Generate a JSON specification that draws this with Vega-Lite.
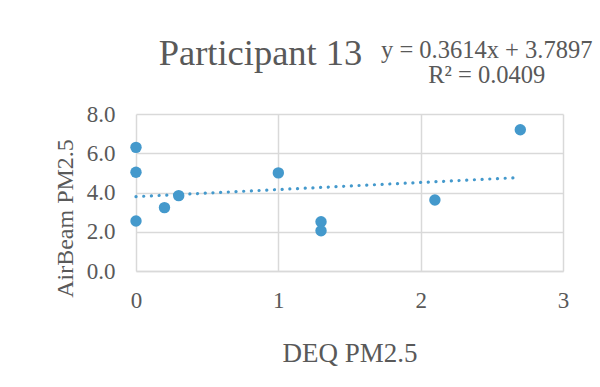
{
  "$schema": "https://vega.github.io/schema/vega-lite/v6.json",
  "width": 427,
  "height": 157,
  "autosize": {"type": "none"},
  "padding": {"left": 136, "top": 114, "right": 37, "bottom": 116},
  "background": "white",
  "datasets": {
    "points": [
      {"deq": 0, "airbeam": 6.3},
      {"deq": 0, "airbeam": 5.03},
      {"deq": 0, "airbeam": 2.55},
      {"deq": 0.2, "airbeam": 3.23},
      {"deq": 0.3, "airbeam": 3.84},
      {"deq": 1.0, "airbeam": 5.0},
      {"deq": 1.3, "airbeam": 2.51},
      {"deq": 1.3, "airbeam": 2.05},
      {"deq": 2.1, "airbeam": 3.62},
      {"deq": 2.7, "airbeam": 7.2}
    ],
    "trend": [
      {"deq": 0, "airbeam": 3.7897},
      {"deq": 2.7, "airbeam": 4.7655}
    ],
    "labels": [
      {"deq": 2.464, "airbeam": 10.85, "text": "y = 0.3614x + 3.7897"},
      {"deq": 2.464, "airbeam": 9.58, "text": "R² = 0.0409"}
    ]
  },
  "title": {
    "text": "Participant 13",
    "font": "Liberation Serif",
    "fontSize": 36.5,
    "fontWeight": "normal",
    "color": "#595959",
    "anchor": "middle",
    "frame": "group",
    "dx": -89,
    "baseline": "alphabetic",
    "offset": -63
  },
  "config": {
    "view": {"stroke": null},
    "font": "Liberation Serif",
    "axis": {
      "labelFont": "Liberation Serif",
      "titleFont": "Liberation Serif",
      "labelColor": "#595959",
      "titleColor": "#595959",
      "labelFontSize": 23,
      "titleFontSize": 27,
      "titleFontWeight": "normal",
      "gridColor": "#d9d9d9",
      "gridWidth": 1.5,
      "gridOpacity": 1,
      "ticks": false,
      "tickSize": 0,
      "labelOverlap": false
    }
  },
  "encoding": {
    "x": {
      "field": "deq",
      "type": "quantitative",
      "scale": {"domain": [0, 3], "nice": false, "zero": false},
      "axis": {
        "title": "DEQ PM2.5",
        "values": [0, 1, 2, 3],
        "format": "d",
        "domain": true,
        "domainColor": "#d9d9d9",
        "domainWidth": 1.5,
        "labelPadding": 36,
        "labelBaseline": "alphabetic",
        "labelFlush": false,
        "titleBaseline": "alphabetic",
        "titleY": 90
      }
    },
    "y": {
      "field": "airbeam",
      "type": "quantitative",
      "scale": {"domain": [0, 8], "nice": false},
      "axis": {
        "title": "AirBeam PM2.5",
        "values": [0, 2, 4, 6, 8],
        "tickCount": 5,
        "format": ".1f",
        "domain": false,
        "labelPadding": 21,
        "labelBaseline": "middle",
        "labelFlush": false,
        "labelOverlap": false,
        "titleFontSize": 24,
        "titleAngle": 270,
        "titleAlign": "center",
        "titleBaseline": "alphabetic",
        "titleX": -64,
        "titleY": 104
      }
    }
  },
  "layer": [
    {
      "data": {"name": "points"},
      "mark": {"type": "circle", "size": 130, "opacity": 1, "color": "#4499cc"}
    },
    {
      "data": {"name": "trend"},
      "mark": {"type": "line", "color": "#4499cc", "strokeWidth": 3.2, "strokeDash": [0.1, 7.6], "strokeCap": "round"}
    },
    {
      "data": {"name": "labels"},
      "mark": {"type": "text", "font": "Liberation Serif", "fontSize": 24.5, "color": "#595959", "align": "center", "baseline": "alphabetic", "clip": false},
      "encoding": {
        "text": {"field": "text"}
      }
    }
  ]
}
